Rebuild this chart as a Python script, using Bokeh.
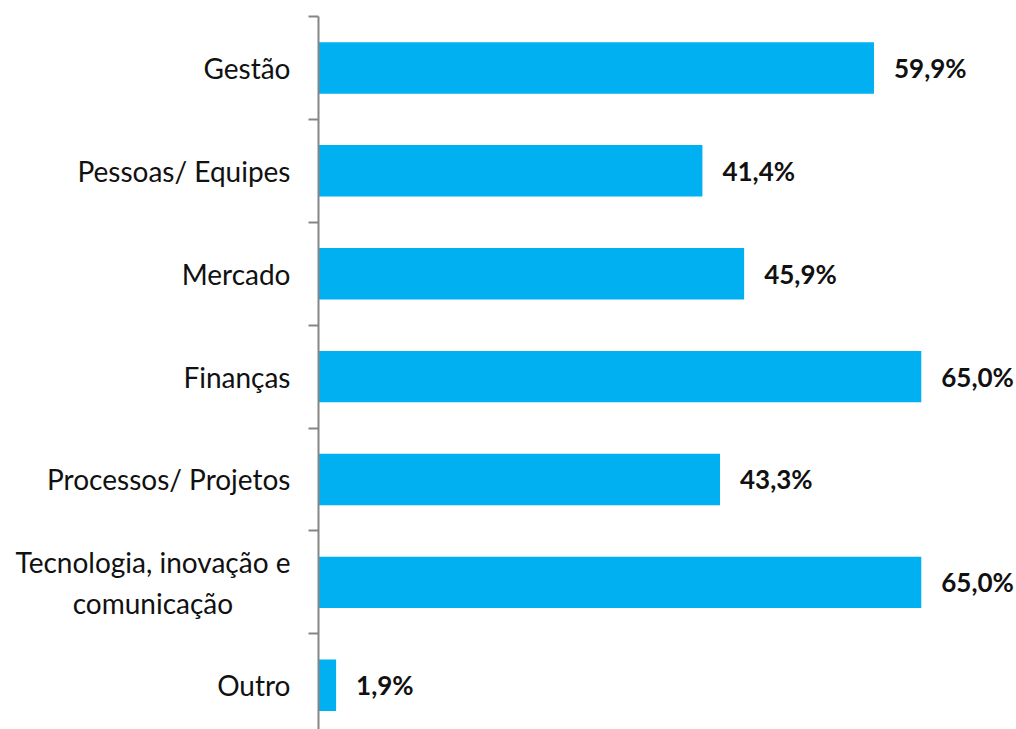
from bokeh.plotting import figure
from bokeh.models import ColumnDataSource, Range1d, FixedTicker
from bokeh.core.properties import value
from bokeh.embed import file_html
from bokeh.resources import INLINE

NB = "\u00a0"
categories = ["Gestão", "Pessoas/ Equipes", "Mercado", "Finanças",
              "Processos/ Projetos", "Tecnologia, inovação e\ncomunicação" + NB * 8, "Outro"]
values = [59.9, 41.4, 45.9, 65.0, 43.3, 65.0, 1.9]

n = len(categories)
ys = [n - 1 - i for i in range(n)]
labels = [f"{v:.1f}".replace(".", ",") + "%" for v in values]

src = ColumnDataSource(dict(y=ys, v=values, lbl=labels))

p = figure(width=1016, height=729, output_backend="svg", toolbar_location=None,
           x_range=Range1d(0, 75.27), y_range=Range1d(-0.43, n - 0.5),
           min_border_left=318, min_border_top=16, min_border_bottom=0, min_border_right=0,
           x_axis_location=None)
p.outline_line_color = None
p.xgrid.visible = False
p.ygrid.visible = False

p.hbar(y="y", left=0, right="v", height=0.5, source=src,
       fill_color="#00B0F0", line_color=None)
p.text(x="v", y="y", text="lbl", source=src, x_offset=20,
       text_baseline="middle", text_align="left",
       text_font=value("Lato"), text_font_style="bold",
       text_font_size="26px", text_color="#111111")

ax = p.yaxis[0]
ax.ticker = FixedTicker(ticks=ys, minor_ticks=[y + 0.5 for y in ys])
ax.major_label_overrides = {y: c for y, c in zip(ys, categories)}
ax.major_tick_out = 0
ax.major_tick_in = 0
ax.minor_tick_out = 10
ax.minor_tick_in = 0
ax.minor_tick_line_color = "#868686"
ax.minor_tick_line_width = 2
ax.axis_line_color = "#868686"
ax.axis_line_width = 2
ax.major_label_standoff = 18
ax.major_label_text_font = "Lato"
ax.major_label_text_font_size = "28px"
ax.major_label_text_color = "#111111"

open("out.html", "w").write(file_html(p, INLINE))
